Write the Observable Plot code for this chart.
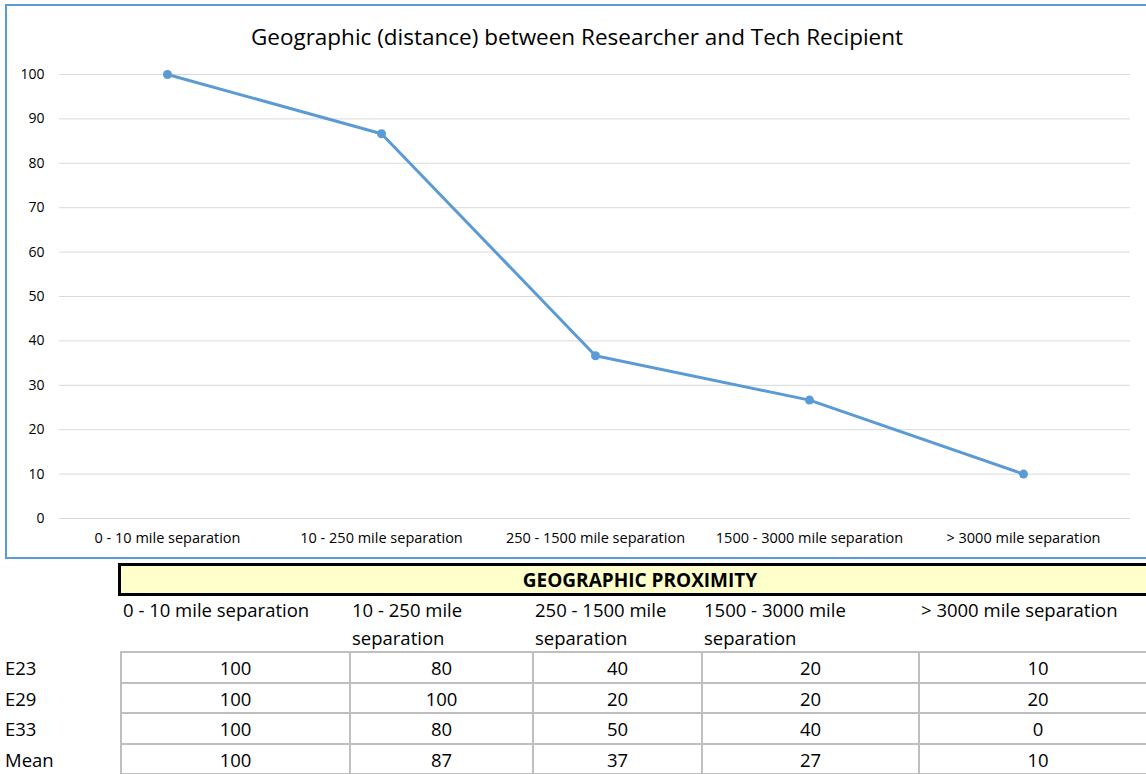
<!DOCTYPE html>
<html>
<head>
<meta charset="utf-8">
<script src="https://cdn.jsdelivr.net/npm/d3@7"></script>
<script src="https://cdn.jsdelivr.net/npm/@observablehq/plot@0.6"></script>
<style>
  html, body { margin:0; padding:0; background:#fff; }
  body { width:1146px; height:774px; overflow:hidden; position:relative; font-family:"Open Sans", sans-serif; color:#000; }
  #chart { position:absolute; left:0; top:0; }
  #frame { position:absolute; left:5px; top:4px; width:1160px; height:555px; box-sizing:border-box; border:2px solid #5b9bd5; pointer-events:none; }
  #title { position:absolute; left:0; width:1154px; top:22px; text-align:center; font-size:22.5px; line-height:30px; }
  .cell { position:absolute; box-sizing:border-box; font-size:18.5px; }
</style>
</head>
<body>
<div id="chart"></div>
<div id="frame"></div>
<div id="title">Geographic (distance) between Researcher and Tech Recipient</div>
<div id="table"></div>
<script>
const categories = ["0 - 10 mile separation", "10 - 250 mile separation", "250 - 1500 mile separation", "1500 - 3000 mile separation", "> 3000 mile separation"];
const headerLabels = [["0 - 10 mile separation"], ["10 - 250 mile", "separation"], ["250 - 1500 mile", "separation"], ["1500 - 3000 mile", "separation"], ["> 3000 mile separation"]];
const e23 = [100, 80, 40, 20, 10];
const e29 = [100, 100, 20, 20, 20];
const e33 = [100, 80, 50, 40, 0];
const rowNames = ["E23", "E29", "E33", "Mean"];
const yTicks = [0, 10, 20, 30, 40, 50, 60, 70, 80, 90, 100];
const tableTitle = "GEOGRAPHIC PROXIMITY";

const meanValues = categories.map((c, i) => (e23[i] + e29[i] + e33[i]) / 3);
const data = categories.map((c, i) => ({cat: c, value: meanValues[i]}));

const chart = Plot.plot({
  width: 1146,
  height: 560,
  marginLeft: 59,
  marginRight: 16,
  marginTop: 74,
  marginBottom: 42,
  style: {fontFamily: "'Open Sans', sans-serif", fontSize: "14px", color: "#000", background: "transparent"},
  x: {type: "point", domain: categories, padding: 0.5, label: null},
  y: {domain: [0, 100], label: null},
  marks: [
    Plot.gridY(yTicks, {stroke: "#d9d9d9", strokeOpacity: 1, strokeWidth: 1}),
    Plot.axisY(yTicks, {tickSize: 0, tickPadding: 15, label: null, fontSize: 14}),
    Plot.axisX({tickSize: 0, tickPadding: 14, label: null, fontSize: 14.5}),
    Plot.line(data, {x: "cat", y: "value", stroke: "#5b9bd5", strokeWidth: 3}),
    Plot.dot(data, {x: "cat", y: "value", r: 4.5, fill: "#5b9bd5", stroke: "none"})
  ]
});
document.getElementById("chart").appendChild(chart);

// Table below
const table = d3.select("#table");
const colEdges = [120, 349, 532, 701, 918, 1156];
table.append("div").attr("class", "cell")
  .style("left", "118px").style("top", "563px").style("width", "1050px").style("height", "33px")
  .style("background", "#ffffcc").style("border", "3px solid #000")
  .style("font-weight", "bold").style("line-height", "28px").style("font-size", "19px")
  .html(`<div style="position:absolute;left:0;width:1038px;text-align:center">${tableTitle}</div>`);
headerLabels.forEach((lines, i) => {
  table.append("div").attr("class", "cell")
    .style("left", (colEdges[i] + 3) + "px").style("top", "596px")
    .style("width", (colEdges[i + 1] - colEdges[i] - 3) + "px")
    .style("line-height", "28px").style("white-space", "nowrap")
    .html(lines.join("<br>"));
});
const rows = [e23, e29, e33, categories.map((c, i) => Math.round(meanValues[i]))];
const rowTop = 651, rowH = 30.5;
rows.forEach((vals, r) => {
  const top = rowTop + r * rowH;
  table.append("div").attr("class", "cell")
    .style("left", "5px").style("top", (top + 2) + "px").style("height", rowH + "px")
    .style("line-height", rowH + "px").text(rowNames[r]);
  vals.forEach((v, i) => {
    table.append("div").attr("class", "cell")
      .style("left", colEdges[i] + "px").style("top", top + "px")
      .style("width", (colEdges[i + 1] - colEdges[i] + 2) + "px").style("height", (rowH + 2) + "px")
      .style("border", "2px solid #bfbfbf")
      .style("text-align", "center").style("line-height", (rowH) + "px")
      .text(v);
  });
});
</script>
</body>
</html>
